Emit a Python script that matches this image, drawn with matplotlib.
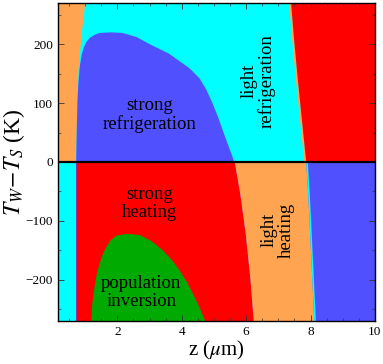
import matplotlib
matplotlib.use('Agg')
import matplotlib.pyplot as plt
from matplotlib.ticker import MultipleLocator

# > region boundaries (z in um, T_W - T_S in K)
z_min, z_max = 0.15, 10.0
dT_min, dT_max = -270, 270

# upper half: orange | cyan | red
dT_up = [0, 100, 160, 220, 270]
z_orange_up = [0.70, 0.74, 0.78, 0.88, 0.985]
dT_red_up = [0, 70, 140, 210, 270]
z_red_up = [7.85, 7.72, 7.59, 7.47, 7.38]

# lower half: cyan | red | orange | blue
dT_lo = [0, -53, -121, -200, -270]
z_cyan_lo = [0.72, 0.72, 0.72, 0.72, 0.72]
z_red_lo = [5.63, 5.80, 5.97, 6.12, 6.22]
z_orange_lo = [7.85, 7.91, 7.97, 8.04, 8.10]

# strong refrigeration dome
z_refr = [0.72, 0.73, 0.745, 0.76, 0.79, 0.83, 0.89, 0.96, 1.04, 1.15, 1.3, 1.45, 1.8, 2.16,
          2.6, 3.0, 3.6, 4.24, 4.55, 4.75, 4.96, 5.12, 5.27, 5.43, 5.58, 5.62]
dT_refr = [0, 30, 70, 105, 135, 161, 182, 195, 204, 211, 216, 219, 220, 219,
           212, 200, 184, 159, 142, 124, 99, 77, 54, 30, 8, 0]

# population inversion dome
z_inv = [1.19, 1.22, 1.29, 1.36, 1.45, 1.55, 1.66, 1.8, 1.97, 2.3, 2.69, 3.05, 3.41,
         3.7, 3.93, 4.15, 4.34, 4.55, 4.73]
dT_inv = [-270, -240, -212, -190, -172, -156, -144, -132, -125, -122, -124, -134, -150,
          -167, -184, -203, -223, -247, -270]

c_orange = '#FFA552'
c_cyan = '#00FFFF'
c_blue = '#5050FF'
c_red = '#FF0000'
c_green = '#00AA00'

plt.rcParams['font.family'] = ['Liberation Serif', 'DejaVu Serif']
plt.rcParams['mathtext.fontset'] = 'stix'

fig = plt.figure(figsize=(3.83, 3.64), dpi=100)
ax = fig.add_axes([0.151, 0.118, 0.828, 0.874])

# upper half
ax.fill_between([z_min, z_max], 0, dT_max, color=c_cyan, lw=0)
ax.fill_betweenx(dT_up, z_min, z_orange_up, color=c_orange, lw=0)
ax.fill_betweenx(dT_red_up, [z - 0.06 for z in z_red_up], z_red_up, color=c_orange, lw=0)
ax.fill_betweenx(dT_red_up, z_red_up, z_max, color=c_red, lw=0)
ax.fill(z_refr, dT_refr, color=c_blue, lw=0)

# lower half
ax.fill_between([z_min, z_max], dT_min, 0, color=c_blue, lw=0)
ax.fill_betweenx(dT_lo, z_min, z_cyan_lo, color=c_cyan, lw=0)
ax.fill_betweenx(dT_lo, z_cyan_lo, z_red_lo, color=c_red, lw=0)
ax.fill_betweenx(dT_lo, z_red_lo, z_orange_lo, color=c_orange, lw=0)
ax.fill_betweenx(dT_lo, z_orange_lo, [z + 0.05 for z in z_orange_lo], color=c_cyan, lw=0)
ax.fill(z_inv, dT_inv, color=c_green, lw=0)

ax.axhline(0, color='black', lw=1.6)

fs = 13.5
ls = 1.05
ax.text(3.0, 80, 'strong\nrefrigeration', ha='center', va='center', fontsize=fs, linespacing=ls)
ax.text(6.37, 137, 'light\nrefrigeration', ha='center', va='center', fontsize=fs,
        rotation=90, linespacing=ls)
ax.text(3.0, -71, 'strong\nheating', ha='center', va='center', fontsize=fs, linespacing=ls)
ax.text(2.74, -222, 'population\ninversion', ha='center', va='center', fontsize=fs, linespacing=ls)
ax.text(6.98, -116, 'light\nheating', ha='center', va='center', fontsize=fs,
        rotation=90, linespacing=ls)

ax.set_xlim(z_min, z_max)
ax.set_ylim(dT_min, dT_max)
ax.xaxis.set_major_locator(MultipleLocator(2))
ax.xaxis.set_minor_locator(MultipleLocator(0.5))
ax.yaxis.set_major_locator(MultipleLocator(100))
ax.yaxis.set_minor_locator(MultipleLocator(50))
ax.tick_params(which='both', direction='in', top=True, right=True, labelsize=9.5, color='#333333')
ax.tick_params(which='major', length=4, width=0.6)
ax.tick_params(which='minor', length=2, width=0.5)
for s in ax.spines.values():
    s.set_linewidth(1.0)

ax.set_xlabel(r'z ($\mu$m)', fontsize=15, labelpad=1)
ax.set_ylabel(r'$T_W\!-\!T_S$ (K)', fontsize=17, labelpad=-1)

plt.savefig('out.png', dpi=100)
